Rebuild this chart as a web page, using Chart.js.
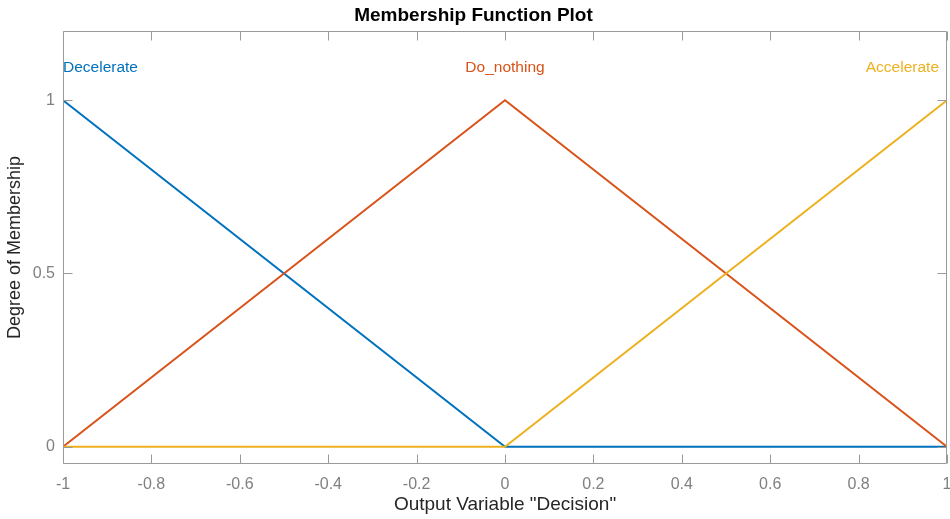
<!DOCTYPE html>
<html>
<head>
<meta charset="utf-8">
<script src="https://cdn.jsdelivr.net/npm/chart.js@4/dist/chart.umd.min.js"></script>
<style>
  html, body { margin: 0; padding: 0; background: #fff; }
  #wrap { width: 950px; height: 519px; }
</style>
</head>
<body>
<div id="wrap"><canvas id="c" width="950" height="519"></canvas></div>
<script>
// ---- data ----
const seriesNames = ["Decelerate", "Do_nothing", "Accelerate"];
const xPoints = [-1, 0, 1];
const decelerate = [1, 0, 0];
const doNothing = [0, 1, 0];
const accelerate = [0, 0, 1];
const labelX = [-1, 0, 1];
const labelY = 1.1;
const xTicks = [-1, -0.8, -0.6, -0.4, -0.2, 0, 0.2, 0.4, 0.6, 0.8, 1];
const xTickLabels = ["-1", "-0.8", "-0.6", "-0.4", "-0.2", "0", "0.2", "0.4", "0.6", "0.8", "1"];
const yTicks = [0, 0.5, 1];
const yTickLabels = ["0", "0.5", "1"];
const xRange = [-1, 1];
const yRange = [-0.05, 1.2];

const colors = ["#0072BD", "#D95319", "#EDB120"];
const FONT = "'Liberation Sans', Arial, Helvetica, sans-serif";

function pts(ys) { return xPoints.map((x, i) => ({ x: x, y: ys[i] })); }

const seriesValues = [decelerate, doNothing, accelerate];

const boxTicks = {
  id: 'boxTicks',
  afterDatasetsDraw(chart) {
    const { ctx, chartArea: a, scales: { x, y } } = chart;
    ctx.save();
    ctx.strokeStyle = '#9a9a9a';
    ctx.lineWidth = 1;
    const L = Math.round(a.left) + 0.5, R = Math.round(a.right) - 0.5;
    const T = Math.round(a.top) + 0.5, B = Math.round(a.bottom) - 0.5;
    ctx.beginPath();
    ctx.rect(L, T, R - L, B - T);
    ctx.stroke();
    const tl = 9;
    ctx.beginPath();
    xTicks.forEach(v => {
      const px = Math.round(x.getPixelForValue(v)) + 0.5;
      ctx.moveTo(px, B); ctx.lineTo(px, B - tl);
      ctx.moveTo(px, T); ctx.lineTo(px, T + tl);
    });
    yTicks.forEach(v => {
      const py = Math.round(y.getPixelForValue(v)) + 0.5;
      ctx.moveTo(L, py); ctx.lineTo(L + tl, py);
      ctx.moveTo(R, py); ctx.lineTo(R - tl, py);
    });
    ctx.stroke();
    // series name labels
    ctx.font = '15.5px ' + FONT;
    ctx.textBaseline = 'middle';
    const aligns = ['left', 'center', 'right'];
    const dx = [0, 0, -8];
    seriesNames.forEach((n, i) => {
      ctx.fillStyle = colors[i];
      ctx.textAlign = aligns[i];
      ctx.fillText(n, x.getPixelForValue(labelX[i]) + dx[i], y.getPixelForValue(labelY) + 2);
    });
    ctx.restore();
  }
};

new Chart(document.getElementById('c'), {
  type: 'line',
  data: {
    datasets: seriesNames.map((n, i) => ({
      label: n,
      data: pts(seriesValues[i]),
      borderColor: colors[i],
      backgroundColor: colors[i],
      borderWidth: 2,
      pointRadius: 0,
      tension: 0,
      fill: false,
      order: 2 - i
    }))
  },
  options: {
    responsive: false,
    animation: false,
    layout: { padding: { left: 0, right: 3, top: 0, bottom: 0 } },
    plugins: {
      legend: { display: false },
      tooltip: { enabled: false },
      title: {
        display: true,
        text: 'Membership Function Plot',
        color: '#000',
        font: { family: FONT, size: 19, weight: 'bold', lineHeight: 1.2 },
        padding: { top: 4.6, bottom: 3.6 }
      }
    },
    scales: {
      x: {
        type: 'linear',
        min: xRange[0], max: xRange[1],
        grid: { display: false, drawTicks: false, tickLength: 0 },
        border: { display: false },
        afterBuildTicks: s => { s.ticks = xTicks.map(v => ({ value: v })); },
        afterFit: s => { s.height = 55; s.paddingLeft = 0; s.paddingRight = 0; },
        ticks: {
          padding: 10.5,
          color: '#808080',
          maxRotation: 0,
          autoSkip: false,
          font: { family: FONT, size: 16, lineHeight: 1.2 },
          callback: (v) => xTickLabels[xTicks.indexOf(v)] ?? String(v)
        },
        title: {
          display: true,
          text: 'Output Variable "Decision"',
          color: '#262626',
          font: { family: FONT, size: 19, lineHeight: 1.2 },
          padding: { top: 0, bottom: 2.6 }
        }
      },
      y: {
        type: 'linear',
        min: yRange[0], max: yRange[1],
        grid: { display: false, drawTicks: false, tickLength: 0 },
        border: { display: false },
        afterBuildTicks: s => { s.ticks = yTicks.map(v => ({ value: v })); },
        afterFit: s => { s.width = 63; s.paddingTop = 0; s.paddingBottom = 0; },
        ticks: {
          padding: 8,
          color: '#808080',
          autoSkip: false,
          font: { family: FONT, size: 16, lineHeight: 1.2 },
          callback: (v) => yTickLabels[yTicks.indexOf(v)] ?? String(v)
        },
        title: {
          display: true,
          text: 'Degree of Membership',
          color: '#262626',
          font: { family: FONT, size: 18, lineHeight: 1.2 },
          padding: { top: 4, bottom: 0 }
        }
      }
    }
  },
  plugins: [boxTicks]
});
</script>
</body>
</html>
